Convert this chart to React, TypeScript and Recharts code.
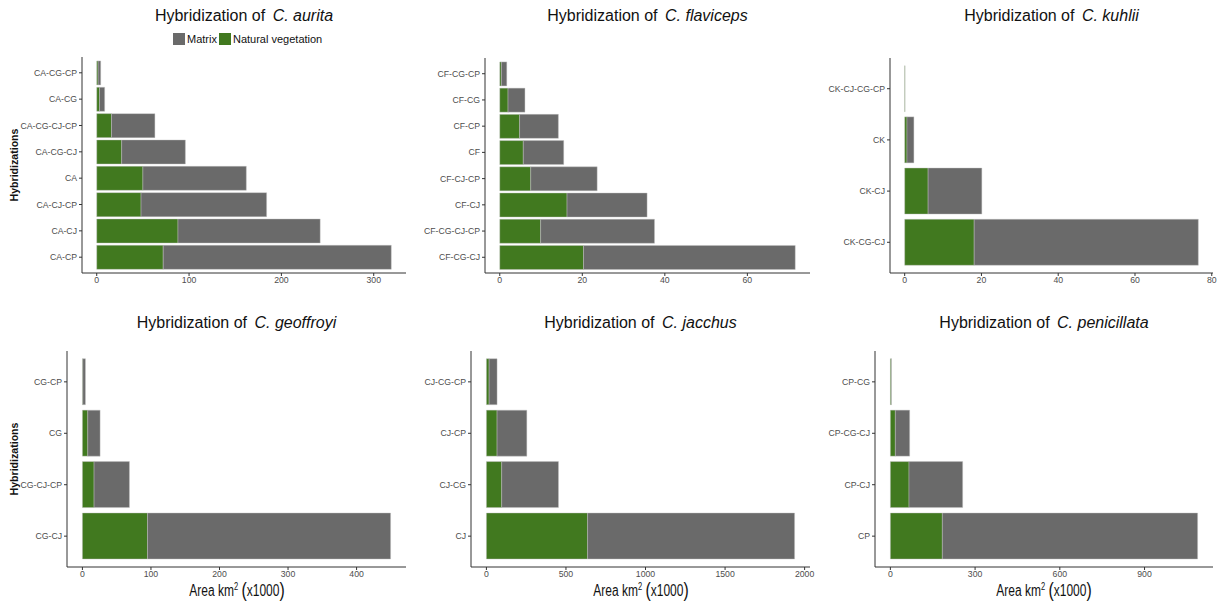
import React from 'react';
import { BarChart, Bar, XAxis, YAxis, Legend } from 'recharts';

// values in km2 (x1000), listed top to bottom as drawn
const auritaCats = ['CA-CG-CP', 'CA-CG', 'CA-CG-CJ-CP', 'CA-CG-CJ', 'CA', 'CA-CJ-CP', 'CA-CJ', 'CA-CP'];
const auritaNatural = [1.5, 3, 16, 27, 50, 48, 88, 72];
const auritaMatrix = [2.8, 5.6, 47, 69, 112, 136, 154, 247];
const auritaTicks = [0, 100, 200, 300];

const flavicepsCats = ['CF-CG-CP', 'CF-CG', 'CF-CP', 'CF', 'CF-CJ-CP', 'CF-CJ', 'CF-CG-CJ-CP', 'CF-CG-CJ'];
const flavicepsNatural = [0.4, 2.0, 4.8, 5.7, 7.5, 16.3, 9.9, 20.3];
const flavicepsMatrix = [1.3, 4.1, 9.4, 9.8, 16.1, 19.4, 27.6, 51.3];
const flavicepsTicks = [0, 20, 40, 60];

const kuhliiCats = ['CK-CJ-CG-CP', 'CK', 'CK-CJ', 'CK-CG-CJ'];
const kuhliiNatural = [0.1, 0.6, 6.1, 18.1];
const kuhliiMatrix = [0, 1.8, 14.0, 58.4];
const kuhliiTicks = [0, 20, 40, 60, 80];

const geoffroyiCats = ['CG-CP', 'CG', 'CG-CJ-CP', 'CG-CJ'];
const geoffroyiNatural = [0.6, 7.8, 17, 95];
const geoffroyiMatrix = [3.8, 18, 51.6, 354.6];
const geoffroyiTicks = [0, 100, 200, 300, 400];

const jacchusCats = ['CJ-CG-CP', 'CJ-CP', 'CJ-CG', 'CJ'];
const jacchusNatural = [17, 67, 96, 636];
const jacchusMatrix = [50, 187, 357, 1301];
const jacchusTicks = [0, 500, 1000, 1500, 2000];

const penicillataCats = ['CP-CG', 'CP-CG-CJ', 'CP-CJ', 'CP'];
const penicillataNatural = [3.5, 17.7, 66, 184];
const penicillataMatrix = [0.5, 50.7, 190, 904];
const penicillataTicks = [0, 300, 600, 900];

const legendOrder = ['Matrix', 'Natural vegetation'];

const GREEN = '#41791f';
const GRAY = '#6a6a6a';
const FONT = '"Liberation Sans", Arial, Helvetica, sans-serif';

const Y_W = 80;
const M_TOP = 40;
const M_RIGHT = 14;
const X_H = 20;

type Row = { name: string; natural: number; matrix: number };
type Box = { left: number; right: number; top: number; bottom: number };

function rows(cats: string[], natural: number[], matrix: number[]): Row[] {
  return cats.map((name, i) => ({ name, natural: natural[i], matrix: matrix[i] }));
}

const LegendContent = (props: any) => {
  const items = [...(props.payload || [])].sort(
    (a: any, b: any) => legendOrder.indexOf(a.value) - legendOrder.indexOf(b.value)
  );
  return (
    <div style={{ display: 'flex', alignItems: 'center', fontFamily: FONT, fontSize: 11, color: '#111', lineHeight: '14px', whiteSpace: 'nowrap' }}>
      {items.map((it: any, i: number) => (
        <span key={i} style={{ display: 'flex', alignItems: 'center', marginRight: 2 }}>
          <span style={{ width: 12, height: 12, background: it.color, display: 'inline-block', marginRight: 2 }} />
          {it.value}
        </span>
      ))}
    </div>
  );
};

interface PanelProps {
  box: Box;
  data: Row[];
  ticks: number[];
  species: string;
  titleTop: number;
  yTitle?: boolean;
  xTitle?: boolean;
  legend?: boolean;
}

const Panel: React.FC<PanelProps> = ({ box, data, ticks, species, titleTop, yTitle, xTitle, legend }) => {
  const maxTotal = Math.max(...data.map((d) => d.natural + d.matrix));
  const pad = maxTotal * 0.05;
  const plotW = box.right - box.left;
  const plotH = box.bottom - box.top;
  const unit = plotH / (data.length + 0.2);
  const chartLeft = box.left - Y_W;
  const chartTop = box.top - M_TOP;
  const cx = (box.left + box.right) / 2;
  const cy = (box.top + box.bottom) / 2;

  return (
    <>
      <div style={{ position: 'absolute', left: cx - 200, width: 400, top: titleTop, textAlign: 'center', fontSize: 16, lineHeight: '18px', color: '#111', fontFamily: FONT }}>
        Hybridization of <span style={{ fontStyle: 'italic', marginLeft: 3 }}>{species}</span>
      </div>
      <div style={{ position: 'absolute', left: chartLeft, top: chartTop }}>
        <BarChart
          width={plotW + Y_W + M_RIGHT}
          height={plotH + M_TOP + X_H}
          data={data}
          layout="vertical"
          margin={{ top: M_TOP, right: M_RIGHT, bottom: 0, left: 0 }}
          barCategoryGap="5%"
        >
          <XAxis
            type="number"
            domain={[-pad, maxTotal + pad]}
            ticks={ticks}
            allowDataOverflow
            height={X_H}
            tickSize={3}
            tickMargin={1}
            tick={{ fill: '#4d4d4d', fontSize: 8.7, fontFamily: FONT }}
            tickLine={{ stroke: '#333' }}
            axisLine={{ stroke: '#333' }}
          />
          <YAxis
            type="category"
            dataKey="name"
            width={Y_W}
            interval={0}
            tickSize={3}
            tickMargin={2}
            padding={{ top: unit * 0.1, bottom: unit * 0.1 }}
            tick={{ fill: '#4d4d4d', fontSize: 8.7, fontFamily: FONT }}
            tickLine={{ stroke: '#333' }}
            axisLine={{ stroke: '#333' }}
          />
          {legend && (
            <Legend
              verticalAlign="middle"
              content={LegendContent}
              wrapperStyle={{ left: 173 - chartLeft, top: 32 - chartTop, width: 'auto' }}
            />
          )}
          <Bar dataKey="natural" name="Natural vegetation" stackId="a" fill={GREEN} stroke="#c4c4c4" strokeOpacity={0.6} strokeWidth={0.7} isAnimationActive={false} />
          <Bar dataKey="matrix" name="Matrix" stackId="a" fill={GRAY} stroke="#c4c4c4" strokeOpacity={0.6} strokeWidth={0.7} isAnimationActive={false} />
        </BarChart>
      </div>
      {yTitle && (
        <div style={{ position: 'absolute', left: 14 - 60, top: cy - 8, width: 120, height: 16, lineHeight: '16px', textAlign: 'center', fontWeight: 'bold', fontSize: 10.6, color: '#111', fontFamily: FONT, transform: 'rotate(-90deg)' }}>
          Hybridizations
        </div>
      )}
      {xTitle && (
        <svg style={{ position: 'absolute', left: cx - 100, top: box.bottom + 8 }} width={200} height={30}>
          <text transform="translate(100,0) scale(0.75,1)" x={0} y={21.5} textAnchor="middle" fontFamily={FONT} fontSize={16} fill="#111">
            Area km<tspan fontSize={10} dy={-6}>2</tspan>
            <tspan dy={6}> </tspan>
            <tspan fontSize={21} dy={1}>(</tspan>
            <tspan dy={-1}>x1000</tspan>
            <tspan fontSize={21} dy={1}>)</tspan>
          </text>
        </svg>
      )}
    </>
  );
};

export default function App() {
  return (
    <div style={{ position: 'absolute', left: 0, top: 0, width: 1228, height: 602, background: '#fff', overflow: 'hidden', fontFamily: FONT }}>
      <Panel box={{ left: 82, right: 406, top: 57, bottom: 273 }} data={rows(auritaCats, auritaNatural, auritaMatrix)} ticks={auritaTicks} species="C. aurita" titleTop={7} yTitle legend />
      <Panel box={{ left: 485, right: 810, top: 58, bottom: 273 }} data={rows(flavicepsCats, flavicepsNatural, flavicepsMatrix)} ticks={flavicepsTicks} species="C. flaviceps" titleTop={7} />
      <Panel box={{ left: 890, right: 1213, top: 58, bottom: 273 }} data={rows(kuhliiCats, kuhliiNatural, kuhliiMatrix)} ticks={kuhliiTicks} species="C. kuhlii" titleTop={7} />
      <Panel box={{ left: 67, right: 406, top: 351, bottom: 567 }} data={rows(geoffroyiCats, geoffroyiNatural, geoffroyiMatrix)} ticks={geoffroyiTicks} species="C. geoffroyi" titleTop={314} yTitle xTitle />
      <Panel box={{ left: 471, right: 810, top: 351, bottom: 567 }} data={rows(jacchusCats, jacchusNatural, jacchusMatrix)} ticks={jacchusTicks} species="C. jacchus" titleTop={314} xTitle />
      <Panel box={{ left: 875, right: 1213, top: 351, bottom: 567 }} data={rows(penicillataCats, penicillataNatural, penicillataMatrix)} ticks={penicillataTicks} species="C. penicillata" titleTop={314} xTitle />
    </div>
  );
}
